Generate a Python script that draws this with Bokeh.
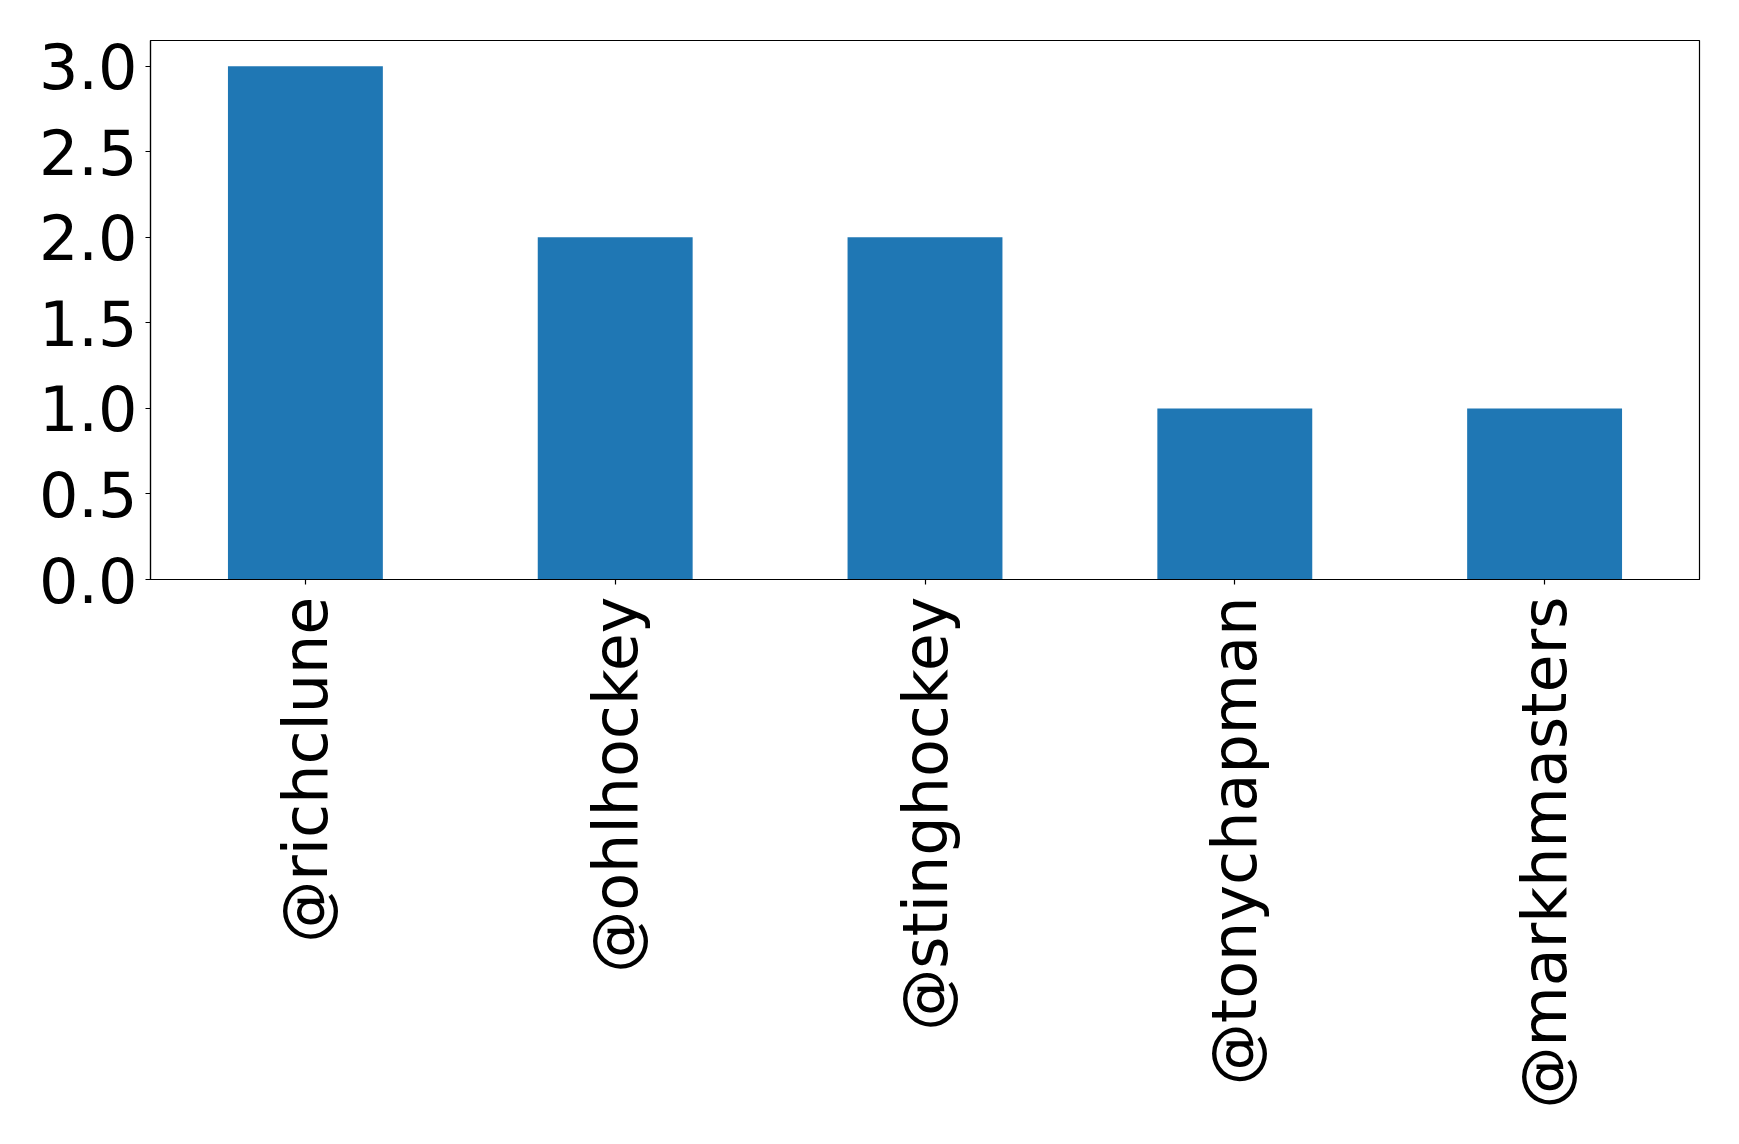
from bokeh.plotting import figure
from bokeh.models import FactorRange, Range1d, FixedTicker, PrintfTickFormatter, ColumnDataSource
from bokeh.embed import file_html
from bokeh.resources import INLINE
import math

users = ["@richclune", "@ohlhockey", "@stinghockey", "@tonychapman", "@markhmasters"]
counts = [3, 2, 2, 1, 1]
y_ticks = [0.0, 0.5, 1.0, 1.5, 2.0, 2.5, 3.0]

src = ColumnDataSource(dict(x=users, top=counts))

p = figure(width=1731, height=1136, output_backend="svg", toolbar_location=None,
           x_range=FactorRange(*users, range_padding=0), y_range=Range1d(0, 3.15),
           min_border_left=150, min_border_right=32, min_border_top=40, min_border_bottom=557)

p.vbar(x="x", top="top", width=0.5, source=src, fill_color="#1f77b4", line_color=None)

p.xgrid.visible = False
p.ygrid.visible = False
p.outline_line_color = "black"
p.outline_line_width = 1.2

font = "DejaVu Sans"
for ax in (p.xaxis[0], p.yaxis[0]):
    ax.axis_line_color = "black"
    ax.axis_line_width = 1.2
    ax.major_tick_line_color = "black"
    ax.major_tick_line_width = 1.2
    ax.major_tick_out = 5
    ax.major_tick_in = 0
    ax.minor_tick_line_color = None
    ax.major_label_text_font = font
    ax.major_label_text_font_size = "62px"
    ax.major_label_text_color = "black"

p.yaxis[0].ticker = FixedTicker(ticks=y_ticks)
p.yaxis[0].formatter = PrintfTickFormatter(format="%.1f")
p.yaxis[0].major_label_standoff = 8

p.xaxis[0].major_label_orientation = math.pi / 2
p.xaxis[0].major_label_standoff = 12
p.xaxis[0].group_text_font_size = "0px"

open("out.html", "w").write(file_html(p, INLINE))
